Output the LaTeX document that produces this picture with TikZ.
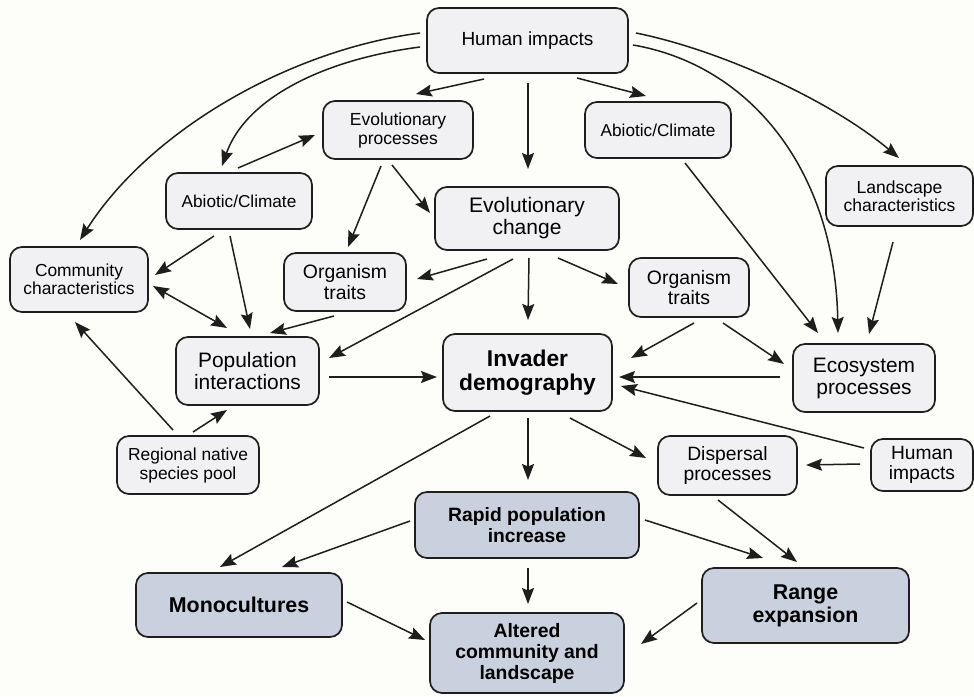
\documentclass[tikz,border=0pt]{standalone}
\usepackage{fontspec}
\setmainfont{Liberation Sans}
\usetikzlibrary{arrows.meta}
\definecolor{bgc}{HTML}{FDFDF9}
\definecolor{lightfill}{HTML}{F1F1F3}
\definecolor{darkfill}{HTML}{C9D0DE}
\definecolor{edgec}{HTML}{1E1E1E}
\newcommand\fsz[2]{\fontsize{#1pt}{#2pt}\selectfont}
\begin{document}
\begin{tikzpicture}[x=1pt,y=-1pt,
  box/.style={draw=edgec, line width=1.7pt, rounded corners=12pt, fill=lightfill, align=center, inner sep=0pt},
  dbox/.style={box, fill=darkfill},
  arr/.style={draw=edgec, line width=1.5pt, -{Stealth[length=16pt,width=12pt,inset=2.5pt]}},
  darr/.style={draw=edgec, line width=1.5pt, {Stealth[length=16pt,width=12pt,inset=2.5pt]}-{Stealth[length=16pt,width=12pt,inset=2.5pt]}}]
\fill[bgc] (0,0) rectangle (974,696);
\useasboundingbox (0,0) rectangle (974,696);

% nodes
\node[box, minimum width=201pt, minimum height=65pt, font=\fsz{19}{20}] (hi) at (527.5,40.5) {Human impacts};
\node[box, minimum width=150pt, minimum height=58pt, font=\fsz{17.5}{19}] (evp) at (398,130) {Evolutionary\\processes};
\node[box, minimum width=146pt, minimum height=56pt, font=\fsz{17.2}{18}] (abl) at (239,201) {Abiotic/Climate};
\node[box, minimum width=138pt, minimum height=65pt, font=\fsz{17.4}{18.5}] (com) at (79,279.5) {Community\\characteristics};
\node[box, minimum width=122pt, minimum height=58pt, font=\fsz{19.4}{20.5}] (otl) at (345,282) {Organism\\traits};
\node[box, minimum width=184pt, minimum height=63pt, font=\fsz{21}{22}] (evc) at (527,218.5) {Evolutionary\\change};
\node[box, minimum width=146pt, minimum height=56pt, font=\fsz{17.2}{18}] (abr) at (658,130) {Abiotic/Climate};
\node[box, minimum width=147pt, minimum height=60pt, font=\fsz{17.5}{18.5}] (lsc) at (899.5,196) {Landscape\\characteristics};
\node[box, minimum width=120pt, minimum height=59pt, font=\fsz{19.4}{20.5}] (otr) at (689,287.5) {Organism\\traits};
\node[box, minimum width=143pt, minimum height=68pt, font=\fsz{20.9}{21.5}] (pop) at (247.5,371) {Population\\interactions};
\node[box, minimum width=142pt, minimum height=58pt, font=\fsz{17.4}{19}] (reg) at (188,465) {Regional native\\species pool};
\node[box, minimum width=169pt, minimum height=77pt, font=\fsz{22.8}{23.5}\bfseries] (inv) at (527.5,372.5) {Invader\\demography};
\node[box, minimum width=142pt, minimum height=68pt, font=\fsz{20.9}{22}] (eco) at (864,378) {Ecosystem\\processes};
\node[box, minimum width=139pt, minimum height=59pt, font=\fsz{19.3}{20.5}] (dis) at (727.5,465.5) {Dispersal\\processes};
\node[box, minimum width=102pt, minimum height=52pt, font=\fsz{19.2}{20.5}] (hir) at (922,465) {Human\\impacts};
\node[dbox, minimum width=224pt, minimum height=66pt, font=\fsz{19.3}{20.5}\bfseries] (rap) at (527,525) {Rapid population\\increase};
\node[dbox, minimum width=206pt, minimum height=64pt, font=\fsz{21.4}{22}\bfseries] (mon) at (239,605) {Monocultures};
\node[dbox, minimum width=207pt, minimum height=75pt, font=\fsz{21.4}{23}\bfseries] (ran) at (805.5,605.5) {Range\\expansion};
\node[dbox, minimum width=194pt, minimum height=80pt, font=\fsz{19.4}{21}\bfseries] (alt) at (527,653) {Altered\\community and\\landscape};

% connectors from Human impacts (top)
\draw[arr] ([shift={(-107.5,-7.5)}]hi.center) .. controls (290,50) and (150,130) .. ([shift={(1,-39.5)}]com.center);
\draw[arr] ([shift={(-107.5,6.5)}]hi.center) .. controls (320,60) and (245,100) .. ([shift={(-17,-35)}]abl.center);
\draw[arr] ([shift={(-43.5,38.5)}]hi.center) -- ([shift={(18,-36)}]evp.center);
\draw[arr] ([shift={(0.5,42.5)}]hi.center) -- ([shift={(1,-49.5)}]evc.center);
\draw[arr] ([shift={(49.5,37.5)}]hi.center) -- ([shift={(-12,-34)}]abr.center);
\draw[arr] ([shift={(105.5,4.5)}]hi.center) .. controls (750,65) and (835,170) .. ([shift={(-26,-45)}]eco.center);
\draw[arr] ([shift={(108.5,-7.5)}]hi.center) .. controls (720,50) and (830,100) .. ([shift={(-0.5,-38)}]lsc.center);

% upper left cluster
\draw[arr] ([shift={(-1,-33)}]abl.center) -- ([shift={(-83,5)}]evp.center);
\draw[arr] ([shift={(-17,36)}]evp.center) -- ([shift={(3,-35)}]otl.center);
\draw[arr] ([shift={(-6,35)}]evp.center) -- ([shift={(-97,-5.5)}]evc.center);
\draw[arr] ([shift={(-25,35)}]abl.center) -- ([shift={(76,-4.5)}]com.center);
\draw[arr] ([shift={(-9,35)}]abl.center) -- ([shift={(2.5,-42)}]pop.center);
\draw[darr] ([shift={(74,6.5)}]com.center) -- ([shift={(-20.5,-43)}]pop.center);
\draw[arr] ([shift={(-11,34)}]otl.center) -- ([shift={(22.5,-38)}]pop.center);

% from Evolutionary change
\draw[arr] ([shift={(-40,40.5)}]evc.center) -- ([shift={(72,-3)}]otl.center);
\draw[arr] ([shift={(-14,40.5)}]evc.center) -- ([shift={(81.5,-13)}]pop.center);
\draw[arr] ([shift={(2,39.5)}]evc.center) -- ([shift={(0.5,-52.5)}]inv.center);
\draw[arr] ([shift={(31,39.5)}]evc.center) -- ([shift={(-71,-3.5)}]otr.center);

% right side
\draw[arr] ([shift={(27,33)}]abr.center) -- ([shift={(-46,-45)}]eco.center);
\draw[arr] ([shift={(-6.5,46)}]lsc.center) -- ([shift={(5,-44)}]eco.center);
\draw[arr] ([shift={(5,35.5)}]otr.center) -- ([shift={(103.5,-14.5)}]inv.center);
\draw[arr] ([shift={(34,35.5)}]otr.center) -- ([shift={(-80,-14)}]eco.center);
\draw[arr] ([shift={(-84,-1)}]eco.center) -- ([shift={(91.5,4.5)}]inv.center);
\draw[arr] ([shift={(-58,-17)}]hir.center) -- ([shift={(93.5,13.5)}]inv.center);
\draw[arr] ([shift={(-62,-1)}]hir.center) -- ([shift={(78.5,-0.5)}]dis.center);

% middle left
\draw[arr] ([shift={(81.5,6)}]pop.center) -- ([shift={(-90.5,4.5)}]inv.center);
\draw[arr] ([shift={(-15,-35)}]reg.center) -- ([shift={(-4,42.5)}]com.center);
\draw[arr] ([shift={(5,-33)}]reg.center) -- ([shift={(-20.5,39)}]pop.center);

% lower part
\draw[arr] ([shift={(-37.5,43.5)}]inv.center) -- ([shift={(-19,-38)}]mon.center);
\draw[arr] ([shift={(0.5,45.5)}]inv.center) -- ([shift={(1,-45)}]rap.center);
\draw[arr] ([shift={(42.5,45.5)}]inv.center) -- ([shift={(-81.5,-7.5)}]dis.center);
\draw[arr] ([shift={(-117,-4)}]rap.center) -- ([shift={(43,-38)}]mon.center);
\draw[arr] ([shift={(118,-5)}]rap.center) -- ([shift={(-42.5,-47.5)}]ran.center);
\draw[arr] ([shift={(-9.5,34.5)}]dis.center) -- ([shift={(-8.5,-43.5)}]ran.center);
\draw[arr] ([shift={(1,43)}]rap.center) -- ([shift={(1,-49)}]alt.center);
\draw[arr] ([shift={(108,-3)}]mon.center) -- ([shift={(-102,-13)}]alt.center);
\draw[arr] ([shift={(-108.5,-2.5)}]ran.center) -- ([shift={(114,-9)}]alt.center);
\end{tikzpicture}
\end{document}
